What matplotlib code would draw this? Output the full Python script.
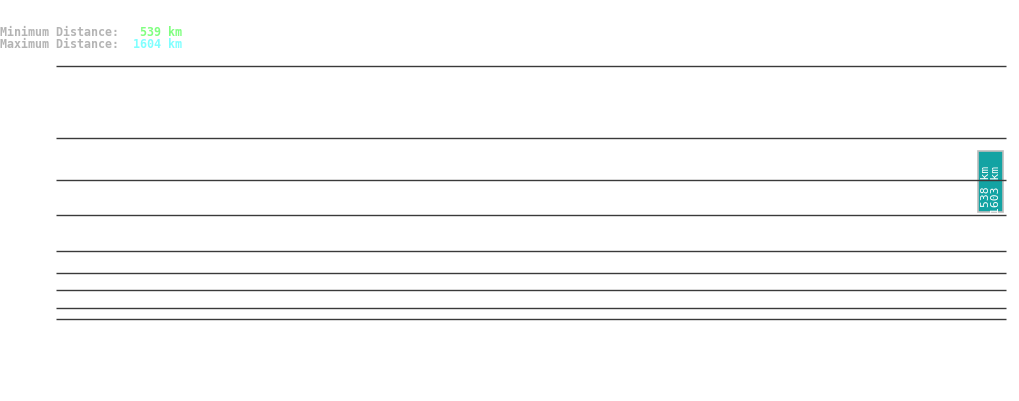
import matplotlib
matplotlib.use("Agg")
import matplotlib.pyplot as plt
from matplotlib.patches import Rectangle

# distance summary
min_distance = 539
max_distance = 1604

# horizontal guide rows (pixel rows in the canvas)
row_levels = [66, 138, 180, 215, 251, 273, 290, 308, 319]
row_x = (56, 1006)

# the single range bar: (x, top, bottom, min km, max km)
bar_x = 978
bar_width = 25
bar_top = 152
bar_bottom = 213
bar_min_km = 538
bar_max_km = 1603

W, H = 1019, 402
fig = plt.figure(figsize=(W / 100, H / 100), dpi=100)
ax = fig.add_axes([0, 0, 1, 1])
ax.set_xlim(0, W)
ax.set_ylim(H, 0)
ax.axis("off")

mono = ["DejaVu Sans Mono"]
label_col = "#b4b4b4"

for lvl in row_levels:
    ax.plot(row_x, [lvl + 0.5, lvl + 0.5], color="#3a3a3a", lw=1.0,
            solid_capstyle="butt")

ax.text(0, 32.5, "Minimum Distance:", family=mono, weight="bold", fontsize=8.4,
        color=label_col, va="center", ha="left")
ax.text(0, 44, "Maximum Distance:", family=mono, weight="bold", fontsize=8.4,
        color=label_col, va="center", ha="left")
ax.text(140, 32.5, f"{min_distance} km", family=mono, weight="bold", fontsize=8.4,
        color="#80ff80", va="center", ha="left")
ax.text(133, 44, f"{max_distance} km", family=mono, weight="bold", fontsize=8.4,
        color="#80ffff", va="center", ha="left")

ax.add_patch(Rectangle((bar_x, bar_top), bar_width, bar_bottom - bar_top,
                       facecolor="#13a3a3", edgecolor="#bdbdbd", lw=1.2))
ax.text(bar_x + bar_width / 2 + 0.5, bar_top + 14,
        f"{bar_min_km} km\n{bar_max_km} km", family=mono, fontsize=8.2,
        color="white", rotation=90, ha="center", va="top",
        multialignment="right", linespacing=0.95)

fig.savefig("out.png", dpi=100, facecolor="white")
